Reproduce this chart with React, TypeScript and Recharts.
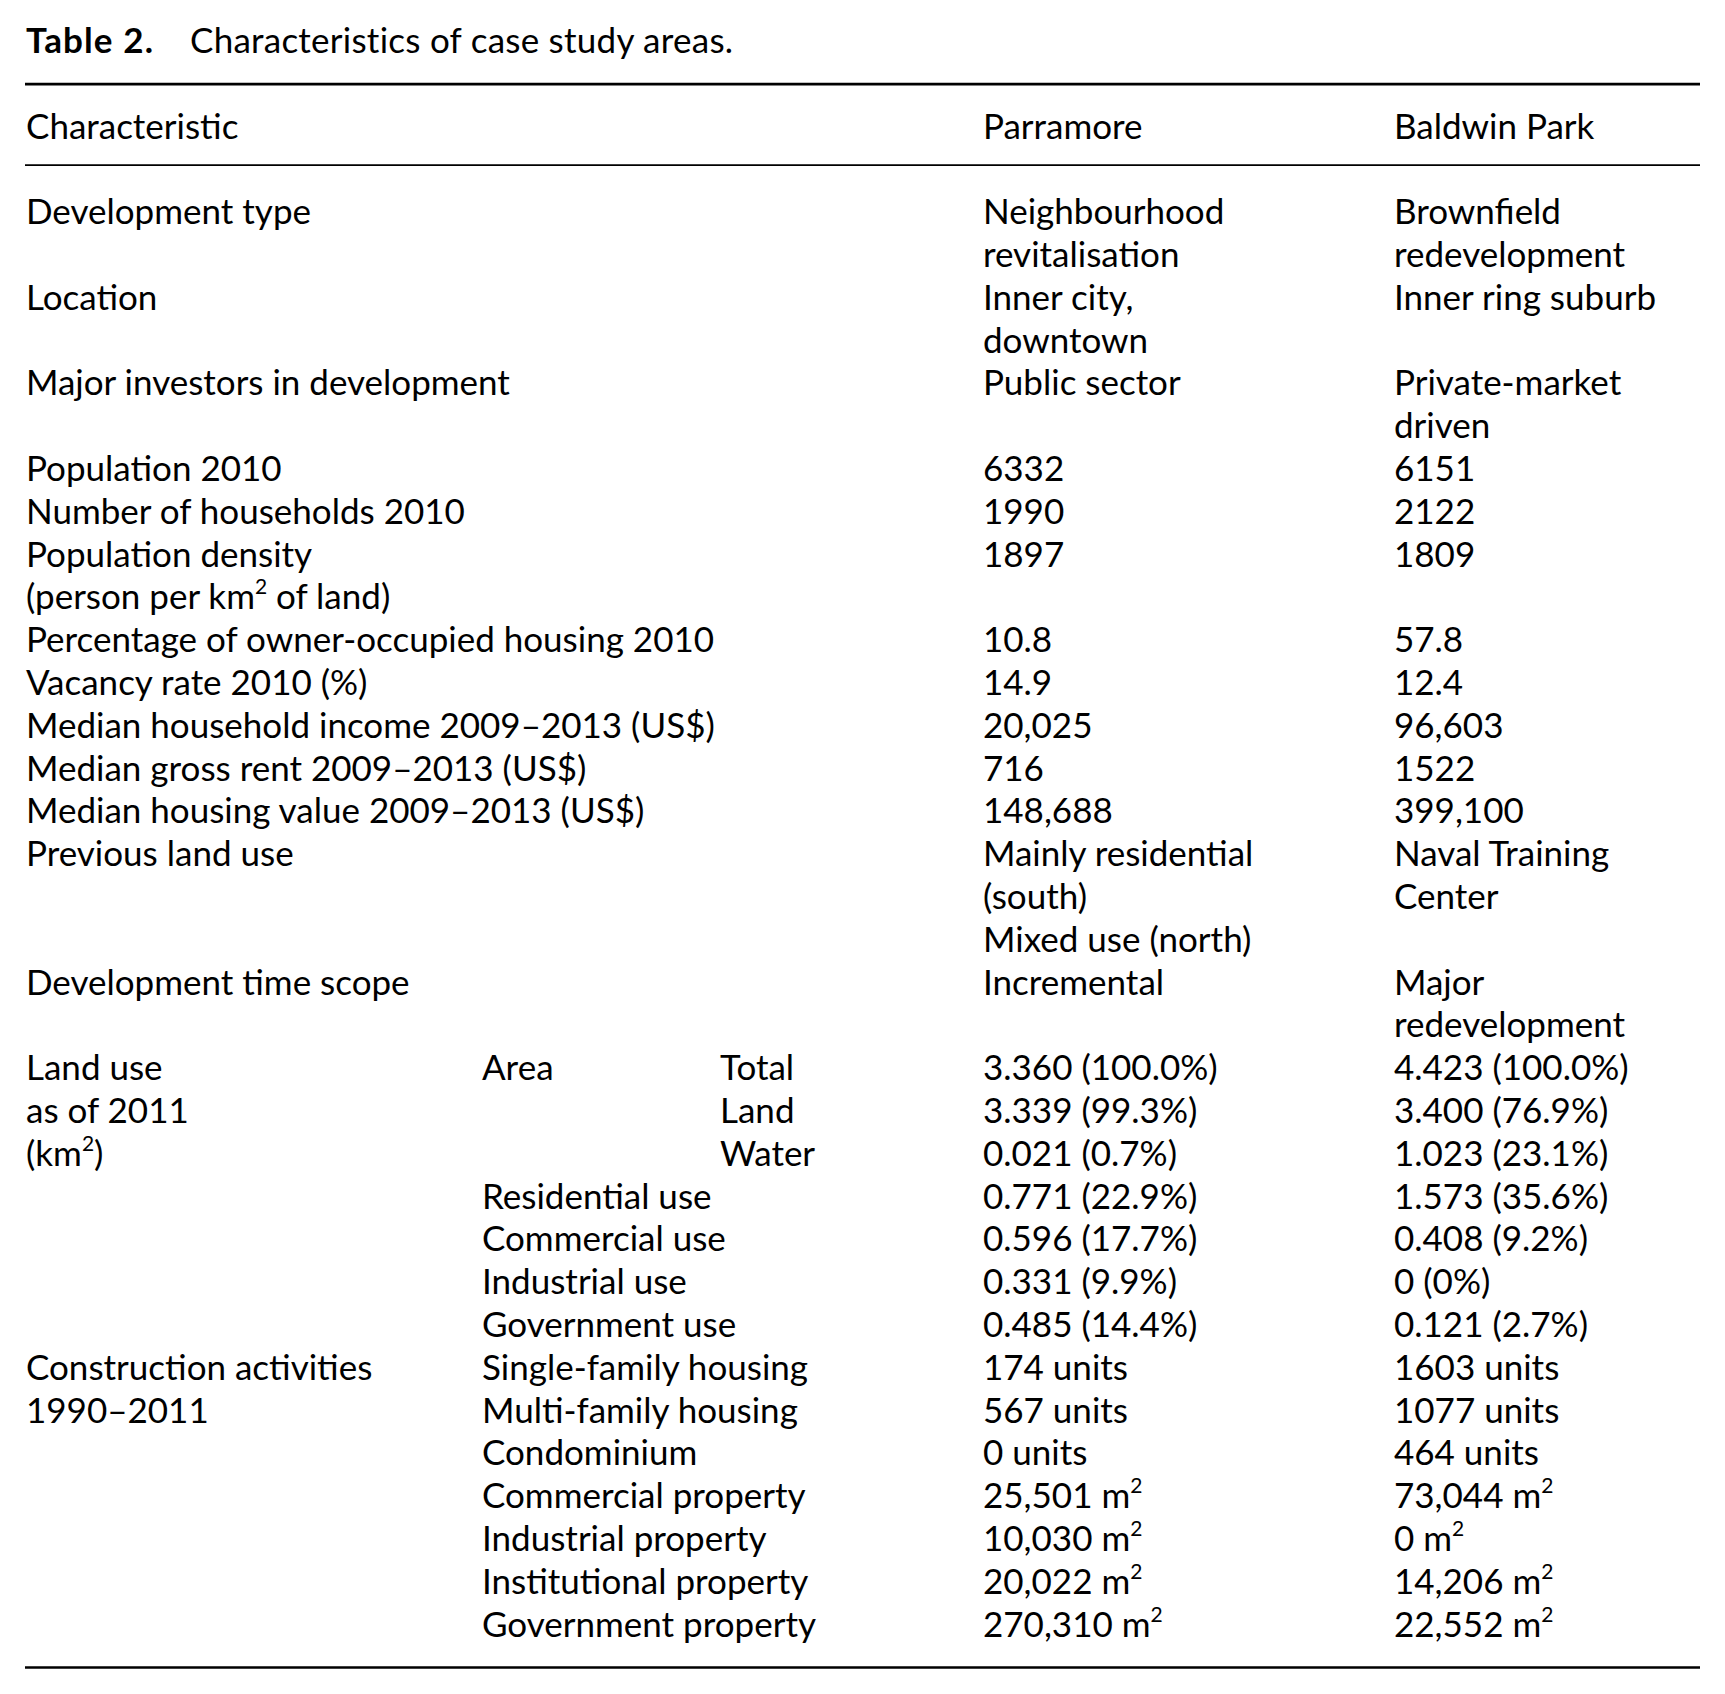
import React from 'react';
import { ScatterChart, Scatter, XAxis, YAxis, ReferenceLine } from 'recharts';

// Table content, one entry per table row ("\n" = line break, "^2" = superscript 2)
const TITLE_LABEL = 'Table 2.';
const TITLE_TEXT = 'Characteristics of case study areas.';
const HEADERS = ['Characteristic', '', '', 'Parramore', 'Baldwin Park'];

const CHARACTERISTICS = [
  'Development type',
  'Location',
  'Major investors in development',
  'Population 2010',
  'Number of households 2010',
  'Population density\n(person per km^2 of land)',
  'Percentage of owner-occupied housing 2010',
  'Vacancy rate 2010 (%)',
  'Median household income 2009–2013 (US$)',
  'Median gross rent 2009–2013 (US$)',
  'Median housing value 2009–2013 (US$)',
  'Previous land use',
  'Development time scope',
  'Land use',
  'as of 2011',
  '(km^2)',
  '', '', '', '',
  'Construction activities',
  '1990–2011',
  '', '', '', '', '',
];

const SUB_GROUPS = [
  '', '', '', '', '', '', '', '', '', '', '', '', '',
  'Area', '', '',
  'Residential use',
  'Commercial use',
  'Industrial use',
  'Government use',
  'Single-family housing',
  'Multi-family housing',
  'Condominium',
  'Commercial property',
  'Industrial property',
  'Institutional property',
  'Government property',
];

const SUB_ITEMS = [
  '', '', '', '', '', '', '', '', '', '', '', '', '',
  'Total', 'Land', 'Water',
  '', '', '', '', '', '', '', '', '', '', '',
];

const PARRAMORE = [
  'Neighbourhood\nrevitalisation',
  'Inner city,\ndowntown',
  'Public sector',
  '6332',
  '1990',
  '1897',
  '10.8',
  '14.9',
  '20,025',
  '716',
  '148,688',
  'Mainly residential\n(south)\nMixed use (north)',
  'Incremental',
  '3.360 (100.0%)',
  '3.339 (99.3%)',
  '0.021 (0.7%)',
  '0.771 (22.9%)',
  '0.596 (17.7%)',
  '0.331 (9.9%)',
  '0.485 (14.4%)',
  '174 units',
  '567 units',
  '0 units',
  '25,501 m^2',
  '10,030 m^2',
  '20,022 m^2',
  '270,310 m^2',
];

const BALDWIN_PARK = [
  'Brownfield\nredevelopment',
  'Inner ring suburb',
  'Private-market\ndriven',
  '6151',
  '2122',
  '1809',
  '57.8',
  '12.4',
  '96,603',
  '1522',
  '399,100',
  'Naval Training\nCenter',
  'Major\nredevelopment',
  '4.423 (100.0%)',
  '3.400 (76.9%)',
  '1.023 (23.1%)',
  '1.573 (35.6%)',
  '0.408 (9.2%)',
  '0 (0%)',
  '0.121 (2.7%)',
  '1603 units',
  '1077 units',
  '464 units',
  '73,044 m^2',
  '0 m^2',
  '14,206 m^2',
  '22,552 m^2',
];

// layout
const W = 1725;
const H = 1694;
const COL_X = [26, 482, 720, 983, 1394];
const TITLE_TEXT_X = 190;
const FONT = 'Lato, "Open Sans", sans-serif';
const FONT_SIZE = 35;
const BASELINE = 12;
const Y_DOMAIN: [number, number] = [-2.956, 36.62];

type Cell = { x: number; y: number; text: string; bold?: boolean; spacing?: number };

const buildCells = (): Cell[] => {
  const cells: Cell[] = [];
  cells.push({ x: COL_X[0], y: -2, text: TITLE_LABEL, bold: true, spacing: 1.1 });
  cells.push({ x: TITLE_TEXT_X, y: -2, text: TITLE_TEXT, spacing: 0.25 });
  HEADERS.forEach((h, c) => h && cells.push({ x: COL_X[c], y: 0, text: h }));
  const columns = [CHARACTERISTICS, SUB_GROUPS, SUB_ITEMS, PARRAMORE, BALDWIN_PARK];
  let line = 2;
  CHARACTERISTICS.forEach((_, r) => {
    let height = 1;
    columns.forEach((col, c) => {
      const parts = col[r] ? col[r].split('\n') : [];
      parts.forEach((p, i) => cells.push({ x: COL_X[c], y: line + i, text: p }));
      height = Math.max(height, parts.length);
    });
    line += height;
  });
  return cells;
};

const CELLS = buildCells();

const renderText = (text: string) => {
  const segs = text.split('^2');
  const out: React.ReactNode[] = [];
  segs.forEach((s, i) => {
    if (s) out.push(<tspan key={`s${i}`} dy={i > 0 ? 15 : 0}>{s}</tspan>);
    if (i < segs.length - 1) {
      out.push(
        <tspan key={`p${i}`} dy={-15} fontSize={FONT_SIZE * 0.6}>
          2
        </tspan>
      );
    }
  });
  return out;
};

const TextCell = (props: any) => {
  const { cx, cy, payload } = props;
  if (cx == null || cy == null) return null;
  return (
    <text
      x={cx}
      y={cy + BASELINE}
      fontFamily={FONT}
      fontSize={FONT_SIZE}
      fontWeight={payload.bold ? 700 : 400}
      letterSpacing={payload.spacing || 0}
      fill="#000"
    >
      {renderText(payload.text)}
    </text>
  );
};

const App: React.FC = () => {
  return (
    <div style={{ width: W, height: H, background: '#fff' }}>
      <style>{'body{margin:0;background:#fff}'}</style>
      <ScatterChart width={W} height={H} margin={{ top: 0, right: 0, bottom: 0, left: 0 }}>
        <XAxis type="number" dataKey="x" domain={[0, W]} hide allowDataOverflow />
        <YAxis type="number" dataKey="y" domain={Y_DOMAIN} reversed hide allowDataOverflow />
        <ReferenceLine segment={[{ x: 25, y: -0.99 }, { x: 1700, y: -0.99 }]} stroke="#000" strokeWidth={2.6} />
        <ReferenceLine segment={[{ x: 25, y: 0.9 }, { x: 1700, y: 0.9 }]} stroke="#000" strokeWidth={1.8} />
        <ReferenceLine segment={[{ x: 25, y: 36 }, { x: 1700, y: 36 }]} stroke="#000" strokeWidth={2.4} />
        <Scatter data={CELLS} shape={TextCell} isAnimationActive={false} />
      </ScatterChart>
    </div>
  );
};

export default App;
